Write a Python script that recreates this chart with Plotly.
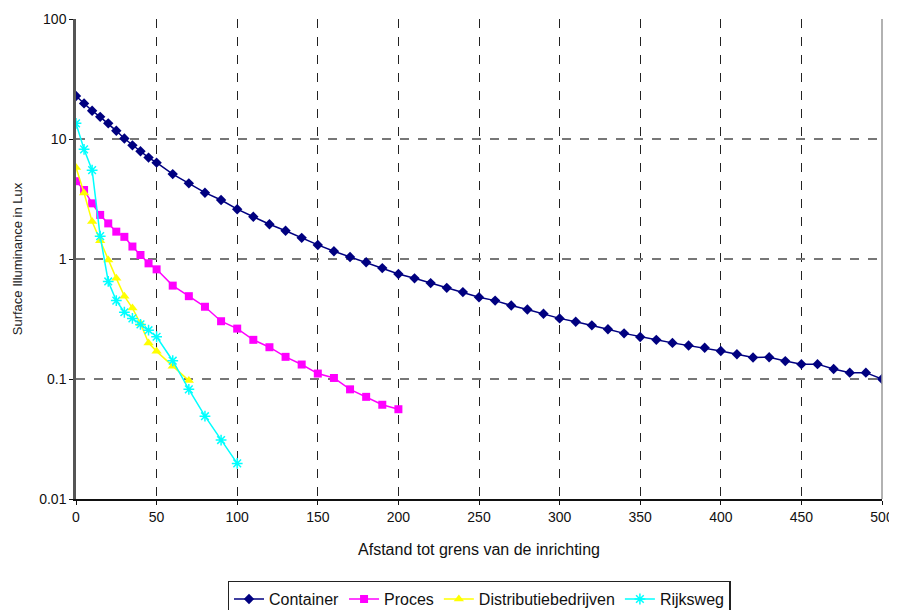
import plotly.graph_objects as go

# Data
container_x = [0, 5, 10, 15, 20, 25, 30, 35, 40, 45, 50,
               60, 70, 80, 90, 100, 110, 120, 130, 140, 150,
               160, 170, 180, 190, 200, 210, 220, 230, 240, 250,
               260, 270, 280, 290, 300, 310, 320, 330, 340, 350,
               360, 370, 380, 390, 400, 410, 420, 430, 440, 450,
               460, 470, 480, 490, 500]
container_y = [22.8, 19.8, 17.2, 15.3, 13.5, 11.7, 10.1, 8.85, 7.9, 7.0, 6.35,
               5.1, 4.27, 3.57, 3.1, 2.6, 2.25, 1.95, 1.72, 1.5, 1.31,
               1.16, 1.04, 0.94, 0.84, 0.75, 0.69, 0.63, 0.575, 0.53, 0.48,
               0.45, 0.41, 0.38, 0.35, 0.32, 0.30, 0.28, 0.26, 0.24, 0.224,
               0.212, 0.20, 0.19, 0.182, 0.171, 0.161, 0.151, 0.152, 0.141, 0.133,
               0.133, 0.121, 0.113, 0.113, 0.10]

proces_x = [0, 5, 10, 15, 20, 25, 30, 35, 40, 45, 50,
            60, 70, 80, 90, 100, 110, 120, 130, 140, 150,
            160, 170, 180, 190, 200]
proces_y = [4.45, 3.76, 2.91, 2.33, 1.98, 1.69, 1.53, 1.27, 1.08, 0.92, 0.82,
            0.60, 0.49, 0.40, 0.303, 0.263, 0.212, 0.184, 0.153, 0.132, 0.111,
            0.102, 0.082, 0.071, 0.061, 0.056]

distr_x = [0, 5, 10, 15, 20, 25, 30, 35, 40, 45, 50, 60, 70]
distr_y = [5.8, 3.55, 2.05, 1.42, 0.98, 0.69, 0.49, 0.39, 0.29, 0.20, 0.17, 0.128, 0.097]

rijks_x = [0, 5, 10, 15, 20, 25, 30, 35, 40, 45, 50, 60, 70, 80, 90, 100]
rijks_y = [13.5, 8.2, 5.5, 1.55, 0.65, 0.45, 0.36, 0.32, 0.285, 0.255, 0.225,
           0.142, 0.082, 0.049, 0.031, 0.0198]

x_ticks = [0, 50, 100, 150, 200, 250, 300, 350, 400, 450, 500]
y_ticks = [0.01, 0.1, 1, 10, 100]
y_tick_labels = ["0.01", "0.1", "1", "10", "100"]

fig = go.Figure()
fig.add_trace(go.Scatter(x=container_x, y=container_y, name="Container",
                         mode="lines+markers",
                         line=dict(color="#000080", width=1.5),
                         marker=dict(symbol="diamond", size=8, color="#000080")))
fig.add_trace(go.Scatter(x=proces_x, y=proces_y, name="Proces",
                         mode="lines+markers",
                         line=dict(color="#FF00FF", width=1.5),
                         marker=dict(symbol="square", size=8, color="#FF00FF")))
fig.add_trace(go.Scatter(x=distr_x, y=distr_y, name="Distributiebedrijven",
                         mode="lines+markers",
                         line=dict(color="#FFFF00", width=1.5),
                         marker=dict(symbol="triangle-up", size=9, color="#FFFF00")))
fig.add_trace(go.Scatter(x=rijks_x, y=rijks_y, name="Rijksweg",
                         mode="lines+markers",
                         line=dict(color="#00FFFF", width=1.5),
                         marker=dict(symbol="asterisk-open", size=9,
                                     color="#00FFFF", line=dict(color="#00FFFF", width=1.5))))

# The page body adds an 8px offset, so the figure is sized to fit the window.
fig.update_layout(
    width=889, height=602,
    margin=dict(l=68, r=15, t=11, b=111, autoexpand=False),
    paper_bgcolor="white", plot_bgcolor="white",
    font=dict(family="Liberation Sans, Arial, sans-serif", size=14, color="#111"),
    showlegend=True,
    legend=dict(orientation="h", x=0.5, xanchor="center", y=-0.17, yanchor="top",
                bordercolor="#222", borderwidth=1.5, bgcolor="white",
                font=dict(size=16, color="#111"), itemwidth=30,
                tracegroupgap=0),
    xaxis=dict(range=[0, 500], tickvals=x_ticks, showgrid=True,
               gridcolor="#222", griddash="dash", gridwidth=1.2,
               showline=True, linecolor="#111", linewidth=1.5,
               ticks="outside", ticklen=4, tickcolor="#111",
               zeroline=False, ticklabeloverflow="allow",
               title=dict(text="Afstand tot grens van de inrichting",
                          font=dict(size=16, color="#111"), standoff=20),
               tickfont=dict(size=14)),
    yaxis=dict(type="log", range=[-2, 2], tickvals=y_ticks, ticktext=y_tick_labels,
               showgrid=True, gridcolor="#777", griddash="dash", gridwidth=2,
               showline=True, linecolor="#555", linewidth=2.5,
               ticks="outside", ticklen=4, tickcolor="#111",
               zeroline=False,
               title=dict(text="Surface Illuminance in Lux",
                          font=dict(size=13, color="#222"), standoff=14),
               tickfont=dict(size=14)),
)

fig.add_shape(type="line", xref="x domain", yref="y domain",
              x0=1, x1=1, y0=0, y1=1, line=dict(color="#999", width=1.5))

fig.write_html("out.html")
